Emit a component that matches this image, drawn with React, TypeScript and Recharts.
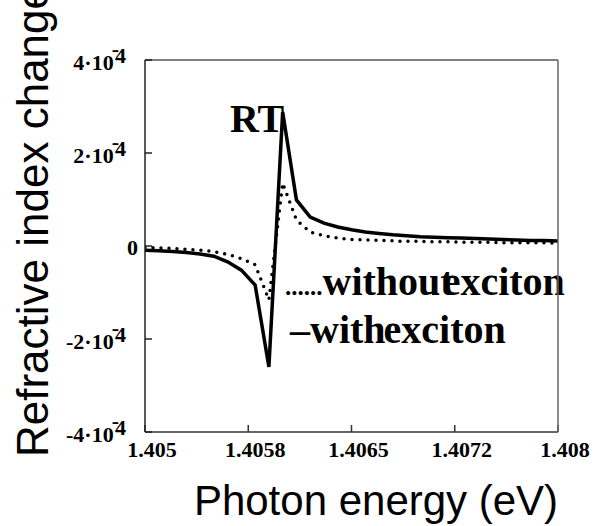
import React from "react";
import { LineChart, Line, XAxis, YAxis, Customized } from "recharts";

// photon energy (eV), sampled every 0.1 meV
const energies = [
  1.405, 1.4051, 1.4052, 1.4053, 1.4054, 1.4055, 1.4056, 1.4057, 1.4058, 1.4059,
  1.406, 1.4061, 1.4062, 1.4063, 1.4064, 1.4065, 1.4066, 1.4067, 1.4068, 1.4069,
  1.407, 1.4071, 1.4072, 1.4073, 1.4074, 1.4075, 1.4076, 1.4077, 1.4078, 1.4079,
  1.408,
];

// refractive index change, in units of 1e-4
const withExciton = [
  -0.09, -0.1, -0.12, -0.14, -0.17, -0.22, -0.34, -0.52, -0.84, -2.6,
  2.88, 0.99, 0.62, 0.49, 0.41, 0.35, 0.3, 0.27, 0.24, 0.22,
  0.2, 0.19, 0.18, 0.17, 0.16, 0.15, 0.14, 0.13, 0.12, 0.12,
  0.11,
];

const withoutExciton = [
  -0.03, -0.04, -0.05, -0.07, -0.09, -0.12, -0.18, -0.27, -0.4, -1.16,
  1.35, 0.56, 0.3, 0.22, 0.17, 0.14, 0.13, 0.12, 0.11, 0.1,
  0.1, 0.09, 0.09, 0.08, 0.08, 0.08, 0.07, 0.07, 0.07, 0.07,
  0.06,
];

const xTicks = [1.405, 1.40575, 1.4065, 1.40725, 1.408];
const xTickLabels = ["1.405", "1.4058", "1.4065", "1.4072", "1.408"];
const yTicks = [-4, -2, 0, 2, 4];

const serif = "'Liberation Serif', 'Times New Roman', serif";
const sans = "'Liberation Sans', Arial, sans-serif";

const rows = energies.map((e, i) => ({
  e,
  withX: withExciton[i],
  withoutX: withoutExciton[i],
}));

const XTick = (props: any) => {
  const { x, y, payload } = props;
  const idx = xTicks.indexOf(payload.value);
  return (
    <text x={x + 7} y={y + 32} textAnchor="middle" fontFamily={serif} fontWeight="bold" fontSize={22} fill="#000">
      {idx >= 0 ? xTickLabels[idx] : payload.value}
    </text>
  );
};

const YTick = (props: any) => {
  const { x, y, payload } = props;
  const v = payload.value;
  if (v === 0) {
    return (
      <text x={x - 14} y={y + 9} textAnchor="end" fontFamily={serif} fontWeight="bold" fontSize={22} fill="#000">
        0
      </text>
    );
  }
  return (
    <text x={x - 26} y={y + 10} textAnchor="end" fontFamily={serif} fontWeight="bold" fontSize={22} fill="#000">
      <tspan>{`${v}·10`}</tspan>
      <tspan dx={-2} dy={-14}>-</tspan>
      <tspan dx={-4} dy={7}>4</tspan>
    </text>
  );
};

const Annotations = () => (
  <g>
    <text x={230} y={132} fontFamily={serif} fontWeight="bold" fontSize={40} fill="#000">
      RT
    </text>
    <text x={285} y={295} fontFamily={serif} fontWeight="bold" fontSize={40} fill="#000">
      <tspan fontSize={25}>......</tspan>
      <tspan>without</tspan>
      <tspan dx={-11}>exciton</tspan>
    </text>
    <text x={290} y={343} fontFamily={serif} fontWeight="bold" fontSize={40} fill="#000">
      <tspan>–with</tspan>
      <tspan dx={-2}>exciton</tspan>
    </text>
    <text x={376} y={515} textAnchor="middle" fontFamily={sans} fontSize={42} fill="#000">
      Photon energy (eV)
    </text>
    <text
      x={48}
      y={221}
      transform="rotate(-90 48 221)"
      textAnchor="middle"
      fontFamily={sans}
      fontSize={44}
      fill="#000"
    >
      Refractive index change
    </text>
  </g>
);

export default function App() {
  return (
    <div style={{ position: "absolute", left: 0, top: 0, background: "#fff" }}>
      <LineChart
        width={601}
        height={526}
        data={rows}
        margin={{ top: 59, right: 42, bottom: 93, left: 144 }}
      >
        <XAxis
          xAxisId="b"
          dataKey="e"
          type="number"
          domain={[1.405, 1.408]}
          ticks={xTicks}
          allowDataOverflow
          height={1}
          tickSize={-7}
          tickMargin={0}
          stroke="#333"
          strokeWidth={1.5}
          tick={<XTick />}
          interval={0}
        />
        <XAxis
          xAxisId="t"
          orientation="top"
          dataKey="e"
          type="number"
          domain={[1.405, 1.408]}
          height={1}
          tick={false}
          tickLine={false}
          stroke="#555"
          strokeWidth={1.5}
        />
        <YAxis
          yAxisId="l"
          type="number"
          domain={[-4, 4]}
          ticks={yTicks}
          allowDataOverflow
          width={1}
          tickSize={-7}
          tickMargin={0}
          stroke="#222"
          strokeWidth={1.5}
          tick={<YTick />}
          interval={0}
        />
        <YAxis
          yAxisId="r"
          orientation="right"
          type="number"
          domain={[-4, 4]}
          ticks={yTicks}
          width={1}
          tickSize={-7}
          tick={false}
          stroke="#666"
          strokeWidth={1.5}
        />
        <Line
          xAxisId="b"
          yAxisId="l"
          type="linear"
          dataKey="withoutX"
          stroke="#000"
          strokeWidth={3.5}
          strokeDasharray="0 8"
          strokeLinecap="round"
          dot={false}
          isAnimationActive={false}
        />
        <Line
          xAxisId="b"
          yAxisId="l"
          type="linear"
          dataKey="withX"
          stroke="#000"
          strokeWidth={3.5}
          strokeLinejoin="miter"
          dot={false}
          isAnimationActive={false}
        />
        <Customized component={Annotations} />
      </LineChart>
    </div>
  );
}
